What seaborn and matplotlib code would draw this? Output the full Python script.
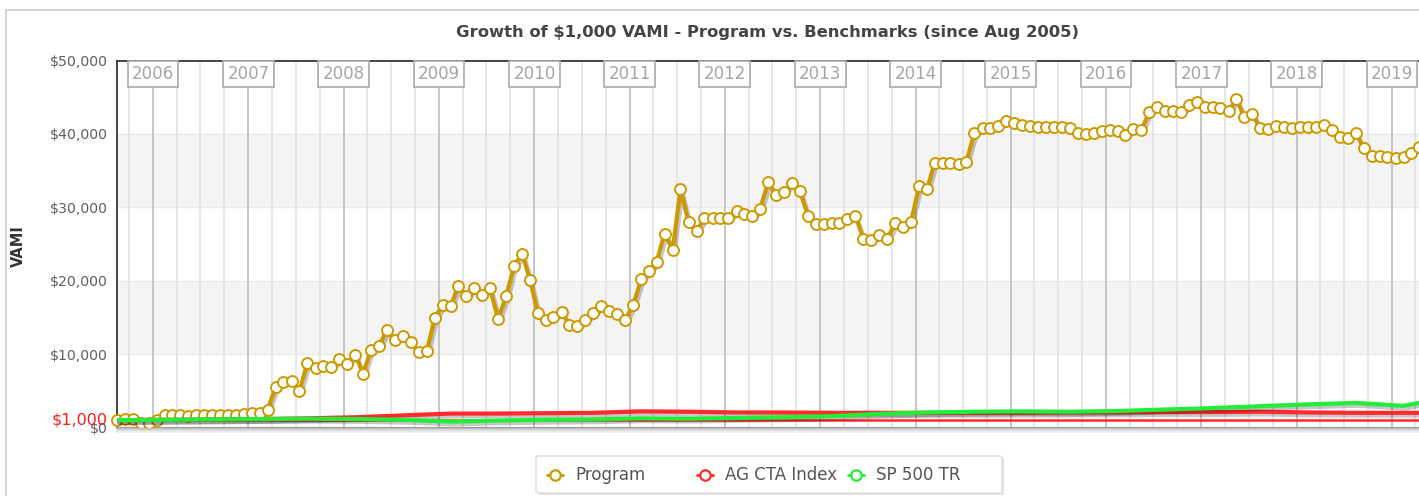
import matplotlib
matplotlib.use('Agg')
import matplotlib.pyplot as plt
import matplotlib.patheffects as pe
import matplotlib.transforms as mtransforms
from matplotlib.patches import Rectangle, FancyBboxPatch
from matplotlib.lines import Line2D
import seaborn as sns
import pandas as pd

# monthly VAMI of the program, Aug 2005 .. Apr 2019
program = [1000, 1190, 1190, 590, 590, 1050, 1640, 1680, 1680, 1540, 1680, 1680,
           1640, 1640, 1680, 1680, 1820, 1910, 2000, 2410, 5500, 6200, 6400, 4950,
           8770, 8090, 8360, 8230, 9370, 8690, 9920, 7330, 10600, 11150, 13230, 11960,
           12410, 11600, 10330, 10460, 14910, 16740, 16600, 19330, 17870, 18960, 18010, 18960,
           14780, 17910, 21960, 23700, 20150, 15550, 14600, 15100, 15700, 14030, 13850, 14600,
           15570, 16600, 15870, 15510, 14600, 16740, 20190, 21320, 22610, 26430, 24240, 32470,
           27970, 26740, 28610, 28560, 28510, 28510, 29430, 29100, 28790, 29780, 33380, 31690,
           32150, 33330, 32240, 28790, 27740, 27690, 27920, 27870, 28470, 28880, 25690, 25610,
           26240, 25690, 27830, 27330, 28060, 32880, 32510, 36080, 36020, 35970, 35920, 36220,
           40150, 40790, 40790, 41060, 41790, 41430, 41200, 41060, 40970, 40970, 40970, 40920,
           40830, 40150, 40010, 40060, 40340, 40520, 40340, 39880, 40610, 40470, 42970, 43700,
           43110, 43110, 43010, 43930, 44380, 43700, 43610, 43520, 43150, 44710, 42330, 42700,
           40790, 40700, 41060, 40970, 40830, 40970, 40920, 40970, 41200, 40520, 39520, 39470,
           40150, 38100, 37010, 36970, 36880, 36660, 36880, 37420, 38240]

# benchmarks, read every six months (plus the last month)
ag_cta = [1000, 1050, 1100, 1150, 1250, 1400, 1650, 1900, 1900, 1950, 2000, 2200, 2150, 2050,
          2050, 2000, 2000, 2000, 2000, 2000, 2050, 2050, 2100, 2100, 2150, 2050, 2000, 2000, 2000]
sp500_tr = [1000, 1050, 1100, 1150, 1200, 1150, 1050, 800, 950, 1050, 1100, 1250, 1200, 1300,
            1400, 1550, 1850, 2050, 2150, 2200, 2150, 2250, 2450, 2650, 2900, 3150, 3350, 2950, 3350]

months = pd.date_range('2005-08-01', periods=len(program), freq='MS') + pd.Timedelta(days=14)
bench_idx = list(range(0, len(program), 6)) + [len(program) - 1]
bench_months = months[bench_idx]
years = list(range(2006, 2020))

GOLD = '#cc9900'
RED = '#ff2b2b'
GREEN = '#22ee3a'

W, H = 1419, 496
sns.set_style('white')
plt.rcParams['font.family'] = ['DejaVu Sans']

fig = plt.figure(figsize=(W / 100, H / 100), dpi=100)


def fx(x):
    return x / W


def fy(y):
    return 1 - y / H


# chart border
fig.patches.append(Rectangle((fx(5.5), -0.1), 1.2, fy(9.5) + 0.1, transform=fig.transFigure,
                             fill=False, ec='#cccccc', lw=1.2))

ax = fig.add_axes([fx(117), fy(427.5), 1 - fx(117), (427.5 - 60.5) / H])

# bands and grid
for lo, hi in [(10000, 20000), (30000, 40000)]:
    ax.axhspan(lo, hi, color='#f4f4f4', zorder=0, lw=0)
for v in [10000, 20000, 30000, 40000]:
    ax.axhline(v, color='#eaeaea', lw=1, zorder=0.5)

quarters = pd.date_range('2005-10-01', '2019-04-01', freq='QS-JAN')
for q in quarters:
    if q.month == 1:
        ax.axvline(q, color='#c2c2c2', lw=1.3, zorder=0.6)
    else:
        ax.axvline(q, color='#e2e2e2', lw=1.2, zorder=0.6)

ax.axhline(1000, color=RED, lw=1.8, zorder=1)

shadow = [pe.SimpleLineShadow(offset=(1.5, -2), shadow_color='black', alpha=0.22), pe.Normal()]

sns.lineplot(x=months, y=program, color=GOLD, lw=3, ax=ax, zorder=2, path_effects=shadow)
sns.scatterplot(x=months, y=program, s=62, color='white', edgecolor=GOLD, linewidth=1.4,
                ax=ax, zorder=3, clip_on=False)
sns.lineplot(x=bench_months, y=ag_cta, color=RED, lw=3, ax=ax, zorder=4, path_effects=shadow)
sns.lineplot(x=bench_months, y=sp500_tr, color=GREEN, lw=3, ax=ax, zorder=5, path_effects=shadow)

ax.set_xlim(months[0], months[-1])
ax.set_ylim(0, 50000)
ax.set_xlabel('')
ax.set_ylabel('')

ax.set_yticks([0, 10000, 20000, 30000, 40000, 50000])
ax.set_yticklabels(['$0', '$10,000', '$20,000', '$30,000', '$40,000', '$50,000'])
ax.tick_params(axis='y', length=0, pad=6.5, labelsize=10.2, labelcolor='#606060')
ax.set_xticks(quarters)
ax.set_xticklabels([])
ax.tick_params(axis='x', length=4, width=1, color='#aaaaaa', direction='out')

for side in ['left', 'top']:
    ax.spines[side].set_color('#444444')
    ax.spines[side].set_linewidth(1.4)
ax.spines['bottom'].set_color('#999999')
ax.spines['bottom'].set_linewidth(1.5)
ax.spines['right'].set_visible(False)

# shadow under the plot
for off, c in [(1.5, '#c8c8c8'), (3, '#dcdcdc'), (4.5, '#ececec')]:
    fig.lines.append(Line2D([fx(117), 1], [fy(427.5 + off)] * 2, transform=fig.transFigure,
                            color=c, lw=1.2))

# year labels on top
blend = mtransforms.blended_transform_factory(ax.transData, ax.transAxes)
for yr in years:
    ax.text(pd.Timestamp(f'{yr}-01-01'), 0.9632, str(yr), transform=blend, ha='center', va='center',
            fontsize=12, color='#a5a5a5', zorder=6, clip_on=False,
            bbox=dict(boxstyle='square,pad=0.25', fc='white', ec='#aaaaaa', lw=1.2))

ax.annotate('$1,000', xy=(0, 1000), xycoords=('axes fraction', 'data'), xytext=(-9, 0),
            textcoords='offset pixels', ha='right', va='center', fontsize=11.5, color='#ff1a1a',
            annotation_clip=False)

fig.text(fx(768), fy(32), 'Growth of $1,000 VAMI - Program vs. Benchmarks (since Aug 2005)',
         ha='center', va='center', fontsize=11.8, fontweight='bold', color='#444444')
fig.text(fx(18), fy(246), 'VAMI', rotation=90, ha='center', va='center', fontsize=10.5,
         fontweight='bold', color='#333333')

# legend
fig.patches.append(FancyBboxPatch((fx(538), fy(495)), fx(466), (495 - 458) / H,
                                  boxstyle='round,pad=0,rounding_size=0.002',
                                  transform=fig.transFigure, fc='#d8d8d8', ec='none', alpha=0.7))
fig.patches.append(FancyBboxPatch((fx(536), fy(493)), fx(466), (493 - 456) / H,
                                  boxstyle='round,pad=0,rounding_size=0.002',
                                  transform=fig.transFigure, fc='white', ec='#dddddd', lw=1))
for mx, tx, c, label in [(555, 575, GOLD, 'Program'), (705, 725, RED, 'AG CTA Index'),
                         (856, 876, GREEN, 'SP 500 TR')]:
    fig.lines.append(Line2D([fx(mx - 8), fx(mx), fx(mx + 8)], [fy(475)] * 3, transform=fig.transFigure,
                            color=c, lw=2, marker='o', markevery=[1], markersize=7.5,
                            markerfacecolor='white', markeredgecolor=c, markeredgewidth=1.6))
    fig.text(fx(tx), fy(475), label, ha='left', va='center', fontsize=12, color='#555555')

fig.savefig('out.png', dpi=100)
